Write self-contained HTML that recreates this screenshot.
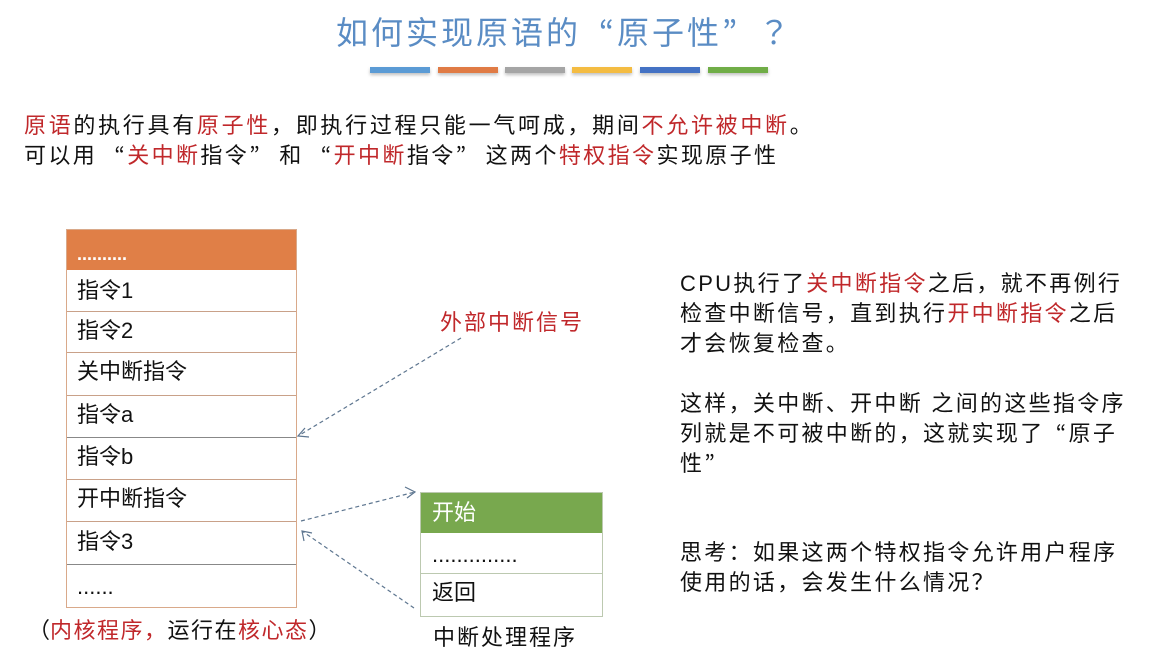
<!DOCTYPE html>
<html><head><meta charset="utf-8"><style>
body{margin:0;width:1152px;height:662px;background:#fff;position:relative;overflow:hidden;font-family:"Liberation Sans","Noto Sans CJK SC",sans-serif;}
.a{position:absolute;white-space:nowrap;}
.o,.c{display:inline-block;font-family:"Noto Sans CJK JP",sans-serif;}
.o{text-align:right;}
.c{text-align:left;}
.r{color:#c0282b;}
.t{font-size:22px;letter-spacing:2.4px;color:#111;}
.t .o,.t .c{width:30px;}
.rt{font-size:22px;letter-spacing:2.3px;color:#111;left:680px;}
.rt .o,.rt .c{width:24px;}
.bar{position:absolute;top:67px;height:6px;width:60px;box-shadow:0 2px 3px rgba(0,0,0,.25);}
.row{position:absolute;left:67px;width:229px;border-bottom:1.5px solid #c9a189;font-size:22px;box-sizing:border-box;padding-left:10px;color:#111;}
.g{position:absolute;left:421px;width:181px;border-bottom:1.5px solid #bcc9b0;font-size:22px;box-sizing:border-box;padding-left:11px;color:#111;}
</style></head><body>
<div class="a" style="left:336px;top:8px;font-size:32px;letter-spacing:3px;color:#5a8cc4;">如何实现原语的<span class="o" style="width:36px">“</span>原子性<span class="c" style="width:36px">”</span><span class="c" style="width:36px">？</span></div>
<div class="bar" style="left:370px;background:#5b9bd5"></div>
<div class="bar" style="left:438px;background:#e07b45"></div>
<div class="bar" style="left:505px;background:#a5a5a5"></div>
<div class="bar" style="left:572px;background:#f4bc42"></div>
<div class="bar" style="left:640px;background:#4472c4"></div>
<div class="bar" style="left:708px;background:#70ad47"></div>

<div class="a t" style="left:24px;top:108px;letter-spacing:2.7px;"><span class="r">原语</span>的执行具有<span class="r">原子性</span>，即执行过程只能一气呵成，期间<span class="r">不允许被中断</span>。</div>
<div class="a t" style="left:24px;top:138px;">可以用<span class="o">“</span><span class="r">关中断</span>指令<span class="c">”</span>和<span class="o">“</span><span class="r">开中断</span>指令<span class="c">”</span>这两个<span class="r">特权指令</span>实现原子性</div>

<div style="position:absolute;left:66px;top:229px;width:231px;height:379px;border:1px solid #d9a98a;box-sizing:border-box;"></div>
<div style="position:absolute;left:67px;top:230px;width:229px;height:40px;background:#e07f47;color:#fff;font-size:18px;font-weight:bold;padding-left:10px;box-sizing:border-box;line-height:48px;">..........</div>
<div class="row" style="top:270px;height:42px;line-height:42px;">指令1</div>
<div class="row" style="top:312px;height:41px;line-height:38px;">指令2</div>
<div class="row" style="top:353px;height:43px;line-height:38px;">关中断指令</div>
<div class="row" style="top:396px;height:42px;line-height:38px;border-color:#888;">指令a</div>
<div class="row" style="top:438px;height:42px;line-height:38px;">指令b</div>
<div class="row" style="top:480px;height:42px;line-height:38px;">开中断指令</div>
<div class="row" style="top:522px;height:43px;line-height:40px;border-color:#888;">指令3</div>
<div class="row" style="top:565px;height:42px;line-height:44px;border:none;">......</div>
<div class="a" style="left:28px;top:613px;font-size:22px;letter-spacing:1.5px;color:#111;"><span class="o" style="width:22px">（</span><span class="r">内核程序，</span>运行在<span class="r">核心态</span><span class="c" style="width:22px">）</span></div>

<div style="position:absolute;left:420px;top:492px;width:183px;height:125px;border:1px solid #bcc9b0;box-sizing:border-box;"></div>
<div style="position:absolute;left:421px;top:493px;width:181px;height:40px;background:#78a84e;color:#fff;font-size:22px;padding-left:11px;box-sizing:border-box;line-height:40px;">开始</div>
<div class="g" style="top:533px;height:41px;line-height:44px;">..............</div>
<div class="g" style="top:574px;height:42px;line-height:38px;border:none;">返回</div>
<div class="a" style="left:433px;top:620px;font-size:22px;letter-spacing:2px;color:#111;">中断处理程序</div>

<div class="a r" style="left:440px;top:305px;font-size:22px;letter-spacing:2px;">外部中断信号</div>

<svg style="position:absolute;left:0;top:0" width="1152" height="662">
<g stroke="#5e7690" stroke-width="1.2" fill="none">
<line x1="461" y1="338" x2="298" y2="436" stroke-dasharray="4,3"/>
<polyline points="305,428 298,436 309,437"/>
<line x1="301" y1="521" x2="415" y2="492" stroke-dasharray="4,3"/>
<polyline points="405,487 415,492 407,498"/>
<line x1="414" y1="608" x2="302" y2="531" stroke-dasharray="4,3"/>
<polyline points="304,541 302,531 312,533"/>
</g></svg>

<div class="a rt" style="top:266px;">CPU执行了<span class="r">关中断指令</span>之后，就不再例行</div>
<div class="a rt" style="top:296px;">检查中断信号，直到执行<span class="r">开中断指令</span>之后</div>
<div class="a rt" style="top:326px;">才会恢复检查。</div>
<div class="a rt" style="top:386px;">这样，关中断、开中断 之间的这些指令序</div>
<div class="a rt" style="top:416px;">列就是不可被中断的，这就实现了<span class="o">“</span>原子</div>
<div class="a rt" style="top:446px;">性<span class="c">”</span></div>
<div class="a rt" style="top:535px;">思考：如果这两个特权指令允许用户程序</div>
<div class="a rt" style="top:565px;">使用的话，会发生什么情况？</div>
</body></html>
